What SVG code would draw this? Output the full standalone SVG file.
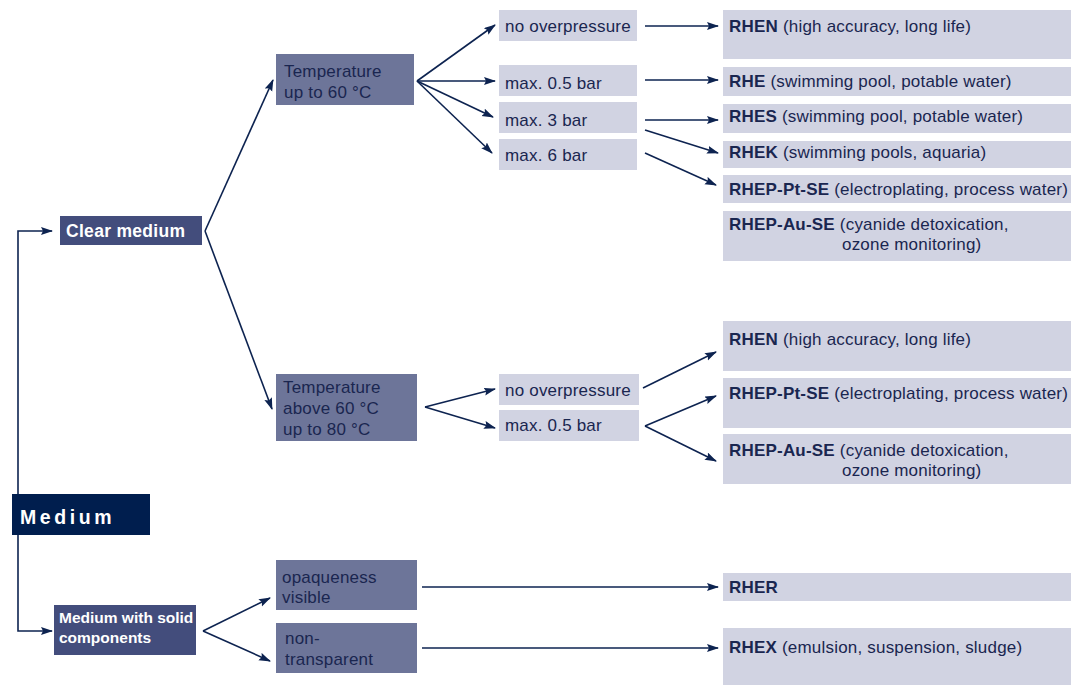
<svg xmlns="http://www.w3.org/2000/svg" width="1073" height="686" viewBox="0 0 1073 686">
<defs>
<marker id="ah" markerWidth="12" markerHeight="10" refX="11" refY="4" orient="auto" markerUnits="userSpaceOnUse">
<path d="M0,0 L12,4 L0,8 L2,4 Z" fill="#0d2350"/>
</marker>
</defs>
<style>
text{font-family:"Liberation Sans",Arial,sans-serif;}
.l1{fill:#001e4e;}
.l2{fill:#434d7c;}
.l3{fill:#6d7599;}
.l4{fill:#d1d3e2;}
.w{fill:#ffffff;font-weight:bold;}
.t{fill:#1a2650;font-size:17px;letter-spacing:0.2px;}
.b{font-weight:bold;}
.c line,.c polyline{stroke:#0d2350;stroke-width:1.6;fill:none;marker-end:url(#ah);}
</style>
<rect width="1073" height="686" fill="#ffffff"/>
<g class="c">
<polyline points="18,494 18,231 52,231"/>
<polyline points="18,535 18,631 52,631"/>
<line x1="205" y1="231" x2="273" y2="80"/>
<line x1="205" y1="231" x2="272" y2="409"/>
<line x1="417" y1="81" x2="495" y2="25"/>
<line x1="417" y1="81" x2="495" y2="81"/>
<line x1="417" y1="81" x2="493" y2="117"/>
<line x1="417" y1="81" x2="492" y2="153"/>
<line x1="645" y1="26" x2="718" y2="26"/>
<line x1="645" y1="80" x2="718" y2="80"/>
<line x1="645" y1="120" x2="718" y2="120"/>
<line x1="645" y1="130" x2="718" y2="153"/>
<line x1="645" y1="153" x2="716" y2="185"/>
<line x1="425" y1="407" x2="495" y2="389"/>
<line x1="425" y1="407" x2="495" y2="428"/>
<line x1="643" y1="388" x2="716" y2="352"/>
<line x1="645" y1="426" x2="716" y2="396"/>
<line x1="645" y1="426" x2="716" y2="461"/>
<line x1="203" y1="631" x2="270" y2="598"/>
<line x1="203" y1="631" x2="270" y2="661"/>
<line x1="422" y1="587" x2="718" y2="587"/>
<line x1="422" y1="648" x2="718" y2="648"/>
</g>
<g id="medium"><rect class="l1" x="12" y="494" width="138" height="41"/><text class="w" x="20" y="524" font-size="19.5" letter-spacing="3.6">Medium</text></g>
<g id="clear"><rect class="l2" x="60" y="216" width="142" height="29"/><text class="w" x="66" y="237" font-size="17.5" letter-spacing="0.3">Clear medium</text></g>
<g id="solid"><rect class="l2" x="54" y="605" width="142" height="50"/><text class="w" x="59" y="623" font-size="15.5">Medium with solid</text><text class="w" x="59" y="643" font-size="15.5">components</text></g>
<g id="t60"><rect class="l3" x="276" y="54" width="138" height="51"/><text class="t" x="284" y="77">Temperature</text><text class="t" x="284" y="98">up to 60 °C</text></g>
<g id="t80"><rect class="l3" x="276" y="374" width="141" height="67"/><text class="t" x="283" y="393">Temperature</text><text class="t" x="283" y="414">above 60 °C</text><text class="t" x="283" y="435">up to 80 °C</text></g>
<g id="p1"><rect class="l4" x="499" y="10" width="138" height="31"/><text class="t" x="505" y="32">no overpressure</text></g>
<g id="p2"><rect class="l4" x="499" y="65" width="138" height="31"/><text class="t" x="505" y="89">max. 0.5 bar</text></g>
<g id="p3"><rect class="l4" x="499" y="102" width="138" height="31"/><text class="t" x="505" y="126">max. 3 bar</text></g>
<g id="p4"><rect class="l4" x="499" y="139" width="138" height="31"/><text class="t" x="505" y="161">max. 6 bar</text></g>
<g id="p5"><rect class="l4" x="499" y="374" width="140" height="31"/><text class="t" x="505" y="396">no overpressure</text></g>
<g id="p6"><rect class="l4" x="499" y="410" width="140" height="31"/><text class="t" x="505" y="431">max. 0.5 bar</text></g>
<g id="o1"><rect class="l3" x="276" y="560" width="141" height="50"/><text class="t" x="282" y="583">opaqueness</text><text class="t" x="282" y="603">visible</text></g>
<g id="o2"><rect class="l3" x="276" y="623" width="141" height="50"/><text class="t" x="285" y="644">non-</text><text class="t" x="285" y="665">transparent</text></g>
<g id="r1"><rect class="l4" x="723" y="10" width="348" height="49"/><text class="t" x="729" y="32"><tspan class="b">RHEN</tspan> (high accuracy, long life)</text></g>
<g id="r2"><rect class="l4" x="723" y="67" width="348" height="29"/><text class="t" x="729" y="87"><tspan class="b">RHE</tspan> (swimming pool, potable water)</text></g>
<g id="r3"><rect class="l4" x="723" y="104" width="348" height="29"/><text class="t" x="729" y="122"><tspan class="b">RHES</tspan> (swimming pool, potable water)</text></g>
<g id="r4"><rect class="l4" x="723" y="141" width="348" height="27"/><text class="t" x="729" y="158"><tspan class="b">RHEK</tspan> (swimming pools, aquaria)</text></g>
<g id="r5"><rect class="l4" x="723" y="175" width="348" height="28"/><text class="t" x="729" y="195"><tspan class="b">RHEP-Pt-SE</tspan> (electroplating, process water)</text></g>
<g id="r6"><rect class="l4" x="723" y="211" width="348" height="50"/><text class="t" x="729" y="230"><tspan class="b">RHEP-Au-SE</tspan> (cyanide detoxication,</text><text class="t" x="842" y="250">ozone monitoring)</text></g>
<g id="r7"><rect class="l4" x="723" y="321" width="348" height="50"/><text class="t" x="729" y="345"><tspan class="b">RHEN</tspan> (high accuracy, long life)</text></g>
<g id="r8"><rect class="l4" x="723" y="378" width="348" height="50"/><text class="t" x="729" y="399"><tspan class="b">RHEP-Pt-SE</tspan> (electroplating, process water)</text></g>
<g id="r9"><rect class="l4" x="723" y="434" width="348" height="50"/><text class="t" x="729" y="456"><tspan class="b">RHEP-Au-SE</tspan> (cyanide detoxication,</text><text class="t" x="842" y="476">ozone monitoring)</text></g>
<g id="r10"><rect class="l4" x="723" y="573" width="348" height="28"/><text class="t" x="729" y="593"><tspan class="b">RHER</tspan></text></g>
<g id="r11"><rect class="l4" x="723" y="628" width="348" height="57"/><text class="t" x="729" y="653"><tspan class="b">RHEX</tspan> (emulsion, suspension, sludge)</text></g>
</svg>
